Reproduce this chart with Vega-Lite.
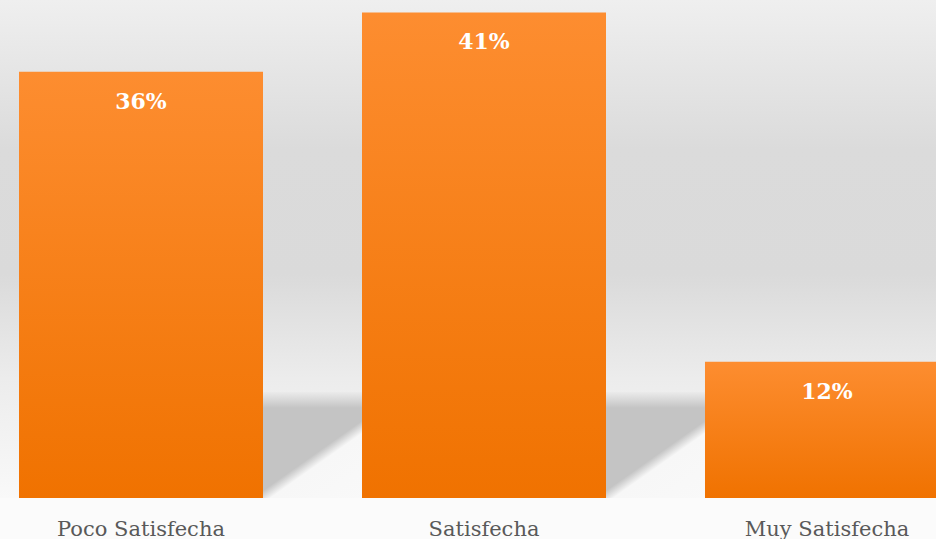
{
  "$schema": "https://vega.github.io/schema/vega-lite/v6.json",
  "width": 936,
  "height": 498,
  "padding": {"left": 0, "top": 0, "right": 0, "bottom": 41},
  "autosize": {"type": "none"},
  "background": "#fbfbfb",
  "config": {
    "view": {"stroke": null},
    "axisX": {
      "labelFont": "DejaVu Serif",
      "labelFontSize": 21,
      "labelColor": "#595959",
      "ticks": false,
      "tickSize": 0,
      "domain": false,
      "grid": false,
      "labelPadding": 20,
      "labelBaseline": "top",
      "labelAngle": 0
    }
  },
  "data": {
    "values": [
      {"nivel": "Poco Satisfecha", "pct": 36, "label": "36%"},
      {"nivel": "Satisfecha", "pct": 41, "label": "41%"},
      {"nivel": "Muy Satisfecha", "pct": 11.5, "label": "12%"}
    ]
  },
  "layer": [
    {
      "mark": {
        "type": "rect",
        "fill": {
          "gradient": "linear", "x1": 0, "y1": 0, "x2": 0, "y2": 1,
          "stops": [
            {"offset": 0, "color": "#efefef"},
            {"offset": 0.3, "color": "#dbdbdb"},
            {"offset": 0.55, "color": "#dadada"},
            {"offset": 0.76, "color": "#ececec"},
            {"offset": 1, "color": "#f9f9f9"}
          ]
        }
      },
      "encoding": {}
    },
    {
      "mark": {
        "type": "bar",
        "xOffset": 99,
        "fill": {
          "gradient": "linear", "x1": 0.467, "y1": 0.457, "x2": 1.127, "y2": 0.863,
          "stops": [
            {"offset": 0, "color": "#c4c4c4"},
            {"offset": 0.46, "color": "#c4c4c4"},
            {"offset": 0.54, "color": "#f7f7f7"},
            {"offset": 1, "color": "#f9f9f9"}
          ]
        }
      },
      "encoding": {
        "x": {"field": "nivel", "type": "nominal", "sort": null, "title": null,
              "scale": {"range": [19, 949], "paddingInner": 0.2886, "paddingOuter": 0}},
        "y": {"datum": 8.95, "type": "quantitative", "scale": {"domain": [0, 42.05], "nice": false, "zero": true}, "axis": null},
        "y2": {"datum": 0}
      }
    },
    {
      "mark": {
        "type": "bar",
        "xOffset": 99,
        "fill": {
          "gradient": "linear", "x1": 0, "y1": 0, "x2": 0, "y2": 1,
          "stops": [
            {"offset": 0, "color": "#ebebeb"},
            {"offset": 1, "color": "#c4c4c4"}
          ]
        }
      },
      "encoding": {
        "x": {"field": "nivel", "type": "nominal", "sort": null, "title": null},
        "y": {"datum": 8.95, "type": "quantitative", "axis": null},
        "y2": {"datum": 7.6}
      }
    },
    {
      "mark": {
        "type": "bar",
        "fill": {
          "gradient": "linear", "x1": 0, "y1": 0, "x2": 0, "y2": 1,
          "stops": [
            {"offset": 0, "color": "#fd8d30"},
            {"offset": 1, "color": "#f07200"}
          ]
        }
      },
      "encoding": {
        "x": {"field": "nivel", "type": "nominal", "sort": null, "title": null},
        "y": {"field": "pct", "type": "quantitative", "axis": null}
      }
    },
    {
      "mark": {
        "type": "text",
        "baseline": "alphabetic",
        "align": "center",
        "dy": 37,
        "fill": "#ffffff",
        "font": "DejaVu Serif",
        "fontWeight": "bold",
        "fontSize": 22
      },
      "encoding": {
        "x": {"field": "nivel", "type": "nominal", "sort": null, "title": null},
        "y": {"field": "pct", "type": "quantitative", "axis": null},
        "text": {"field": "label"}
      }
    }
  ]
}
